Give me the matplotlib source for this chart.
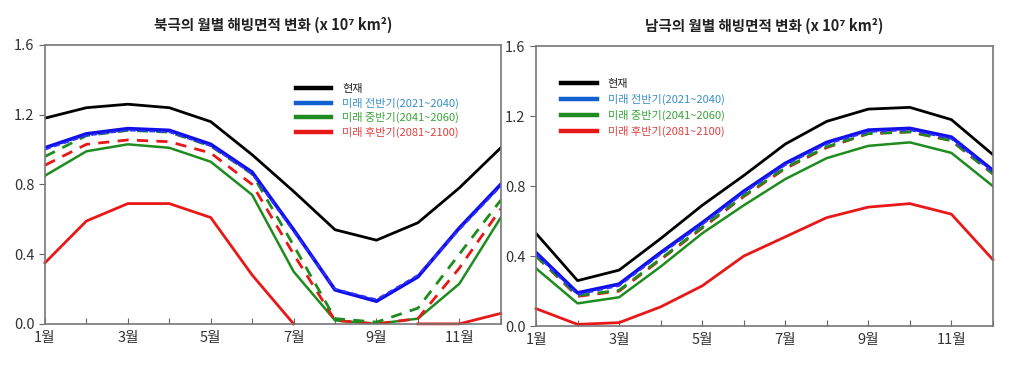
import matplotlib
matplotlib.use('Agg')
import numpy as np
import matplotlib.pyplot as plt
from matplotlib.lines import Line2D

plt.rcParams['font.family'] = ['Noto Sans CJK KR', 'DejaVu Sans']

months = np.arange(1, 13)
month_labels = ["1월", "", "3월", "", "5월", "", "7월", "", "9월", "", "11월", ""]

# Arctic (북극), x 10^7 km^2
arc_now = [1.18, 1.24, 1.26, 1.24, 1.16, 0.97, 0.76, 0.54, 0.48, 0.58, 0.78, 1.01]
arc_early = [1.01, 1.09, 1.12, 1.11, 1.03, 0.87, 0.54, 0.195, 0.13, 0.27, 0.55, 0.80]
arc_early_d = [1.00, 1.08, 1.11, 1.10, 1.02, 0.86, 0.53, 0.20, 0.14, 0.28, 0.54, 0.79]
arc_mid = [0.85, 0.99, 1.03, 1.01, 0.93, 0.74, 0.30, 0.02, 0.0, 0.03, 0.23, 0.61]
arc_mid_d = [0.96, 1.08, 1.11, 1.10, 1.02, 0.86, 0.45, 0.03, 0.01, 0.09, 0.40, 0.71]
arc_late = [0.35, 0.59, 0.69, 0.69, 0.61, 0.28, 0.0, np.nan, np.nan, 0.0, 0.0, 0.06]
arc_late_d = [0.91, 1.03, 1.055, 1.045, 0.98, 0.80, 0.40, 0.02, 0.0, 0.03, 0.32, 0.66]

# Antarctic (남극)
ant_now = [0.53, 0.26, 0.32, 0.50, 0.69, 0.86, 1.04, 1.17, 1.24, 1.25, 1.18, 0.98]
ant_early = [0.42, 0.19, 0.24, 0.42, 0.59, 0.77, 0.93, 1.05, 1.12, 1.13, 1.08, 0.89]
ant_early_d = [0.41, 0.18, 0.23, 0.41, 0.58, 0.76, 0.92, 1.04, 1.11, 1.12, 1.07, 0.88]
ant_mid = [0.33, 0.13, 0.165, 0.34, 0.53, 0.69, 0.84, 0.96, 1.03, 1.05, 0.99, 0.80]
ant_mid_d = [0.40, 0.175, 0.205, 0.385, 0.565, 0.745, 0.905, 1.025, 1.10, 1.11, 1.06, 0.87]
ant_late = [0.10, 0.01, 0.02, 0.11, 0.23, 0.40, 0.51, 0.62, 0.68, 0.70, 0.64, 0.38]
ant_late_d = [0.40, 0.17, 0.20, 0.38, 0.56, 0.74, 0.90, 1.02, 1.10, 1.11, 1.06, 0.87]

titles = ["북극의 월별 해빙면적 변화 (x 10⁷ km²)", "남극의 월별 해빙면적 변화 (x 10⁷ km²)"]
legend_labels = ["현재", "미래 전반기(2021~2040)", "미래 중반기(2041~2060)", "미래 후반기(2081~2100)"]

BLACK = '#000000'
BLUE = '#1010e8'
GREEN = '#1e8c1e'
RED = '#e81818'
text_colors = ['#222222', '#3a8fc8', '#3aa33a', '#e04040']

fig = plt.figure(figsize=(10.22, 3.81), dpi=100)
ax1 = fig.add_axes([0.044, 0.150, 0.446, 0.732])
ax2 = fig.add_axes([0.5245, 0.144, 0.447, 0.735])

panels = [
    (ax1, arc_now, arc_early, arc_early_d, arc_mid, arc_mid_d, arc_late, arc_late_d, (0.54, 0.875), 0.3),
    (ax2, ant_now, ant_early, ant_early_d, ant_mid, ant_mid_d, ant_late, ant_late_d, (0.045, 0.90), 0.45),
]

for i, (ax, now, early, early_d, mid, mid_d, late, late_d, leg_pos, spacing) in enumerate(panels):
    ax.plot(months, late, color=RED, lw=2, clip_on=False)
    ax.plot(months, mid, color=GREEN, lw=1.8)
    ax.plot(months, late_d, color=RED, lw=2, ls=(0, (4, 3)))
    ax.plot(months, mid_d, color=GREEN, lw=2, ls=(0, (4, 3)))
    ax.plot(months, early, color=BLUE, lw=2.6)
    ax.plot(months, early_d, color='#3030ff', lw=1.4, ls=(0, (3, 2)))
    ax.plot(months, now, color=BLACK, lw=2)

    ax.set_xlim(1, 12)
    ax.set_ylim(0, 1.6)
    ax.set_xticks(months)
    ax.set_xticklabels(month_labels)
    ax.set_yticks([0.0, 0.4, 0.8, 1.2, 1.6])
    ax.set_yticklabels(["0.0", "0.4", "0.8", "1.2", "1.6"])
    ax.tick_params(axis='x', direction='in', length=4, color='#666666',
                   labelsize=10.5, labelcolor='#333333', pad=5)
    ax.tick_params(axis='y', direction='out', length=4, color='#666666',
                   labelsize=10.5, labelcolor='#333333')
    for sp in ax.spines.values():
        sp.set_color('#777777')
        sp.set_linewidth(1.2)

    ax.set_title(titles[i], fontsize=10.5, fontweight='bold', color='#222222', pad=11)

    handles = [Line2D([], [], color=BLACK, lw=3.2),
               Line2D([], [], color='#1060d0', lw=3.2),
               Line2D([], [], color=GREEN, lw=3.2),
               Line2D([], [], color=RED, lw=3.2)]
    ax.legend(handles, legend_labels, loc='upper left', bbox_to_anchor=leg_pos,
              frameon=False, fontsize=8, handlelength=3.2, handletextpad=1.0,
              labelspacing=spacing, borderaxespad=0, labelcolor=text_colors)

fig.savefig('out.png', dpi=100, facecolor='white')
